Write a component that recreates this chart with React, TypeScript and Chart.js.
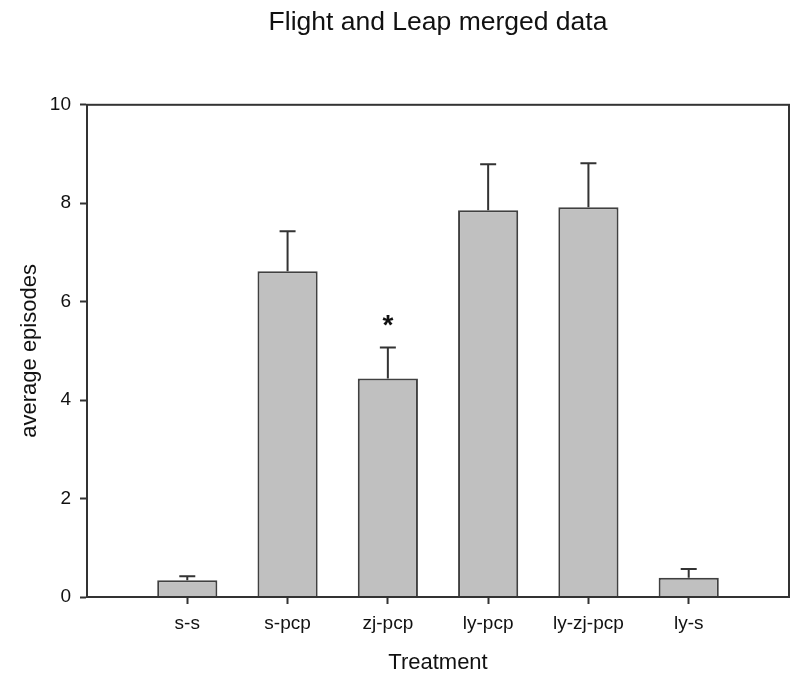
import React, { useEffect, useRef } from "react";
import { Chart, registerables } from "chart.js";

Chart.register(...registerables);

const categories = ["", "s-s", "s-pcp", "zj-pcp", "ly-pcp", "ly-zj-pcp", "ly-s", ""];
const means = [null, 0.34, 6.62, 4.44, 7.86, 7.92, 0.39, null];
const errorTops = [null, 0.42, 7.43, 5.07, 8.79, 8.81, 0.57, null];
const markers = ["", "", "", "*", "", "", "", ""];
const yTicks = [0, 2, 4, 6, 8, 10];

const FONT = "Arial, 'Liberation Sans', sans-serif";

const extrasPlugin = {
  id: "extras",
  afterDatasetsDraw(chart: any) {
    const { ctx, chartArea } = chart;
    const x = chart.scales.x;
    const y = chart.scales.y;
    ctx.save();
    ctx.strokeStyle = "#333333";
    ctx.lineWidth = 2;
    for (let i = 0; i < categories.length; i++) {
      const m = means[i];
      const e = errorTops[i];
      if (m == null || e == null) continue;
      const px = x.getPixelForValue(i);
      const y0 = y.getPixelForValue(m);
      const y1 = y.getPixelForValue(e);
      ctx.beginPath();
      ctx.moveTo(px, y0);
      ctx.lineTo(px, y1);
      ctx.moveTo(px - 8, y1);
      ctx.lineTo(px + 8, y1);
      ctx.stroke();
      if (markers[i]) {
        ctx.fillStyle = "#111";
        ctx.font = `bold 28px ${FONT}`;
        ctx.textAlign = "center";
        ctx.textBaseline = "middle";
        ctx.fillText(markers[i], px, y1 - 21);
      }
    }
    ctx.strokeStyle = "#333333";
    ctx.lineWidth = 2;
    ctx.strokeRect(chartArea.left, chartArea.top, chartArea.right - chartArea.left, chartArea.bottom - chartArea.top);
    ctx.restore();
  },
};

export default function App() {
  const ref = useRef<HTMLCanvasElement | null>(null);
  useEffect(() => {
    if (!ref.current) return;
    const chart = new Chart(ref.current, {
      type: "bar",
      data: {
        labels: categories,
        datasets: [
          {
            data: means as any,
            backgroundColor: "#c0c0c0",
            borderColor: "#404040",
            borderWidth: 2,
            barPercentage: 0.6,
            categoryPercentage: 1,
          },
        ],
      },
      plugins: [extrasPlugin],
      options: {
        animation: false,
        responsive: false,
        maintainAspectRatio: false,
        layout: { padding: { left: 0, right: 11, top: 0, bottom: 0 } },
        plugins: {
          legend: { display: false },
          tooltip: { enabled: false },
          title: {
            display: true,
            text: "Flight and Leap merged data",
            fullSize: false,
            color: "#111",
            font: { family: FONT, size: 26.5, weight: "normal" },
            padding: { top: 7, bottom: 66 },
          },
        },
        scales: {
          x: {
            type: "category",
            offset: false,
            grid: {
              display: true,
              offset: false,
              drawOnChartArea: false,
              drawTicks: true,
              tickLength: 7,
              tickWidth: 2,
              tickColor: (c: any) => (c.index === 0 || c.index === categories.length - 1 ? "rgba(0,0,0,0)" : "#333"),
            },
            border: { display: true, color: "#333", width: 2 },
            ticks: {
              color: "#111",
              font: { family: FONT, size: 19 },
              padding: 8,
              autoSkip: false,
              maxRotation: 0,
            },
            title: {
              display: true,
              text: "Treatment",
              color: "#111",
              font: { family: FONT, size: 22 },
              padding: { top: 10, bottom: 7 },
            },
            afterFit: (s: any) => {
              s.height = 86;
            },
          },
          y: {
            min: 0,
            max: 10,
            afterBuildTicks: (s: any) => {
              s.ticks = yTicks.map((v) => ({ value: v }));
            },
            grid: {
              display: true,
              drawOnChartArea: false,
              drawTicks: true,
              tickLength: 7,
              tickWidth: 2,
              tickColor: "#333",
            },
            border: { display: true, color: "#333", width: 2 },
            ticks: {
              color: "#111",
              font: { family: FONT, size: 19 },
              padding: 9,
            },
            title: {
              display: true,
              text: "average episodes",
              color: "#111",
              font: { family: FONT, size: 22 },
              padding: { top: 17, bottom: 10 },
            },
            afterFit: (s: any) => {
              s.width = 87;
            },
          },
        },
      },
    });
    return () => chart.destroy();
  }, []);
  return (
    <div style={{ position: "fixed", left: 0, top: 0, width: 800, height: 683, background: "#fff" }}>
      <canvas ref={ref} width={800} height={683} style={{ width: 800, height: 683 }} />
    </div>
  );
}
